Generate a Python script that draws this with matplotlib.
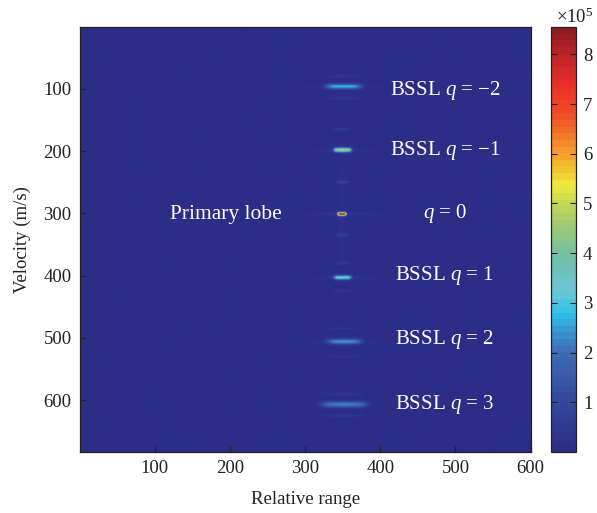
import numpy as np
import matplotlib
matplotlib.use("Agg")
import matplotlib.pyplot as plt
from matplotlib.colors import LinearSegmentedColormap

# ---------------- data ----------------
range_bins = 600          # relative range cells
velocity_bins = 683       # velocity cells (m/s)

# main lobes (BSSL q = -2 ... 3)
lobe_q = [-2, -1, 0, 1, 2, 3]
lobe_velocity = [96, 198, 301, 403, 506, 607]
lobe_range_center = [351, 350, 349, 350, 352, 352]
lobe_range_halfwidth = [24, 12, 6, 12, 23, 31]
lobe_thickness = [3.0, 2.6, 1.9, 2.6, 3.2, 3.6]
lobe_peak = [2.4e5, 4.2e5, 7.4e5, 3.2e5, 2.1e5, 1.9e5]
lobe_tail_peak = [0.35e5, 0.4e5, 0.6e5, 0.4e5, 0.35e5, 0.35e5]

# weak sidelobes between main lobes
side_velocity = [80, 115, 165, 250, 335, 380, 425, 485, 530, 590, 625]
side_peak = [0.45e5, 0.45e5, 0.6e5, 0.75e5, 0.7e5, 0.55e5, 0.5e5, 0.4e5, 0.4e5, 0.45e5, 0.45e5]
side_halfwidth = [22, 22, 12, 10, 10, 12, 14, 20, 22, 28, 28]

# text labels
label_text = ["BSSL $q$ = \u22122", "BSSL $q$ = \u22121", "$q$ = 0",
              "BSSL $q$ = 1", "BSSL $q$ = 2", "BSSL $q$ = 3"]
label_velocity = [103, 199, 300, 400, 503, 607]
xticks = [100, 200, 300, 400, 500, 600]
yticks = [100, 200, 300, 400, 500, 600]
cbar_ticks = [1, 2, 3, 4, 5, 6, 7, 8]
cbar_max = 8.55e5

# ---------------- build the field ----------------
x = np.arange(range_bins) + 1.0
v = np.arange(velocity_bins) + 1.0
X, V = np.meshgrid(x, v)
field = np.full(X.shape, 0.03e5)

for vc, xc, hw, th, pk, tp in zip(lobe_velocity, lobe_range_center,
                                  lobe_range_halfwidth, lobe_thickness,
                                  lobe_peak, lobe_tail_peak):
    gy = np.exp(-0.5 * ((V - vc) / th) ** 2)
    gx = np.exp(-np.abs((X - xc) / hw) ** 6)
    field += pk * gx * gy
    field += tp * np.exp(-np.abs(X - xc) / 45.0) * gy

for vc, pk, hw in zip(side_velocity, side_peak, side_halfwidth):
    gy = np.exp(-0.5 * ((V - vc) / 1.8) ** 2)
    gx = np.exp(-np.abs((X - 350) / hw) ** 4)
    field += pk * gx * gy

# faint vertical streak through primary lobe
field += 0.22e5 * np.exp(-((X - 349) / 5.0) ** 2) * np.exp(-((V - 300) / 90.0) ** 2)

# ---------------- colormap (printed jet look) ----------------
stops = [(0.0, "#2c2d86"), (1.0, "#33479d"), (2.0, "#3e6db5"), (2.45, "#3a9ad6"),
         (2.75, "#2dbfea"), (3.2, "#6cc6d6"), (3.9, "#6fbfa9"), (4.6, "#a3c971"),
         (5.1, "#cddc4f"), (5.4, "#f0e83b"), (5.9, "#f5ac2b"), (6.4, "#f3792a"),
         (6.85, "#ef4b27"), (7.45, "#ea2e2a"), (8.0, "#bf2429"), (8.55, "#8d1c1f")]
cmap = LinearSegmentedColormap.from_list(
    "pjet", [(s / 8.55, c) for s, c in stops], N=64)

# ---------------- figure ----------------
plt.rcParams["font.family"] = ["Liberation Serif", "DejaVu Serif"]
plt.rcParams["mathtext.fontset"] = "custom"
plt.rcParams["mathtext.rm"] = "Liberation Serif"
plt.rcParams["mathtext.it"] = "Liberation Serif:italic"

fig = plt.figure(figsize=(5.97, 5.13), dpi=100)
ax = fig.add_axes([80 / 597, 1 - 452 / 513, 451 / 597, 425 / 513])
im = ax.imshow(field, cmap=cmap, vmin=0, vmax=cbar_max, aspect="auto",
               extent=[0.5, range_bins + 0.5, velocity_bins + 0.5, 0.5],
               interpolation="bilinear")
ax.set_xticks(xticks)
ax.set_yticks(yticks)
ax.tick_params(direction="in", length=4, width=0.8, labelsize=13.5,
               colors="#222222", top=False, right=False, pad=6)
ax.set_xlabel("Relative range", fontsize=13.5, color="#222222", labelpad=10)
ax.set_ylabel("Velocity (m/s)", fontsize=13.5, color="#222222", labelpad=9)
for s in ax.spines.values():
    s.set_color("#222222")
    s.set_linewidth(0.9)

for t, vy in zip(label_text, label_velocity):
    ax.text(486, vy, t, color="white", fontsize=15, ha="center", va="center")
ax.text(194, 302, "Primary lobe", color="white", fontsize=15.5,
        ha="center", va="center")

cax = fig.add_axes([551 / 597, 1 - 452 / 513, 25 / 597, 425 / 513])
cb = fig.colorbar(im, cax=cax)
cb.set_ticks([t * 1e5 for t in cbar_ticks])
cb.set_ticklabels([str(t) for t in cbar_ticks])
cax.tick_params(direction="in", length=4, width=0.8, labelsize=13.5,
                colors="#222222", left=True, right=True, pad=5)
cb.outline.set_edgecolor("#222222")
cb.outline.set_linewidth(0.9)
fig.text(556 / 597, 1 - 17 / 513, "\u00d710$^{5}$", fontsize=13.5,
         color="#222222", ha="left", va="center")

fig.savefig("out.png", dpi=100)
